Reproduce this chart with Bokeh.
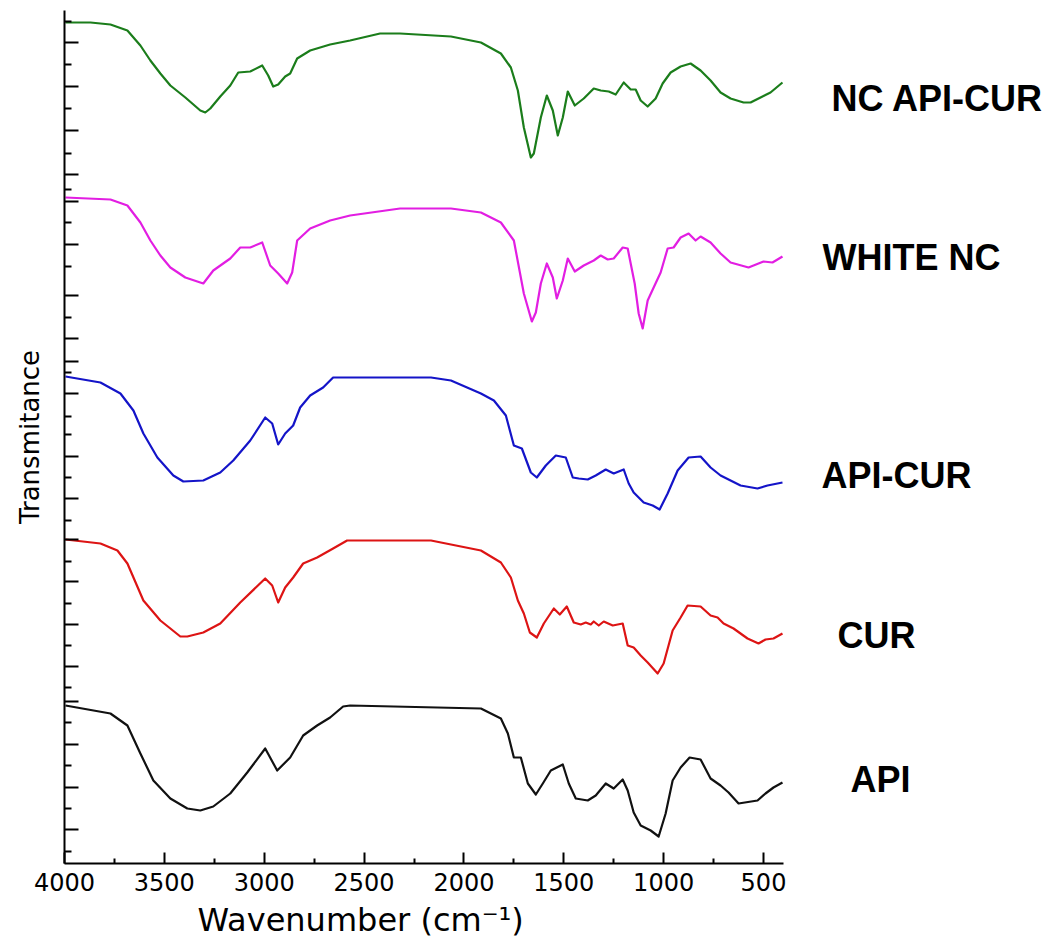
from bokeh.plotting import figure
from bokeh.models import Range1d, FixedTicker, Label, CustomJSTickFormatter, Title
from bokeh.embed import file_html
from bokeh.resources import INLINE

# ---------------- data (stacked transmittance, arbitrary units) ----------------
labels = ["NC API-CUR", "WHITE NC", "API-CUR", "CUR", "API"]
colors = ["#1b7d1b", "#e21ee2", "#1414c8", "#dd1414", "#111111"]

nc_api_cur_wn = [3995, 3870, 3770, 3685, 3620, 3570, 3520, 3470, 3395, 3320, 3295, 3270, 3220, 3170, 3130,
                 3070, 3010, 2980, 2955, 2930, 2895, 2870, 2835, 2770, 2670, 2570, 2420, 2320, 2065, 1915,
                 1815, 1765, 1730, 1700, 1665, 1650, 1615, 1585, 1555, 1530, 1505, 1480, 1445, 1400, 1350,
                 1315, 1275, 1240, 1200, 1165, 1140, 1115, 1080, 1040, 1005, 965, 915, 865, 815, 765,
                 715, 665, 600, 565, 515, 465, 405]
nc_api_cur_t = [841, 841, 839, 833, 818, 803, 790, 778, 766, 753, 751, 755, 767, 778, 791,
                792, 798, 788, 777, 779, 787, 790, 805, 813, 819, 823, 830, 830, 827, 821,
                810, 796, 773, 736, 706, 710, 746, 768, 753, 728, 746, 772, 758, 765, 775,
                773, 772, 769, 781, 774, 774, 763, 757, 765, 780, 791, 797, 800, 793, 783,
                771, 765, 761, 761, 766, 771, 781]

white_nc_wn = [3995, 3770, 3685, 3620, 3570, 3520, 3470, 3395, 3305, 3255, 3170, 3120, 3070, 3010, 2970,
               2930, 2885, 2860, 2835, 2770, 2670, 2570, 2320, 2065, 1915, 1815, 1750, 1700, 1660, 1640,
               1615, 1585, 1555, 1535, 1505, 1480, 1445, 1400, 1350, 1315, 1280, 1250, 1205, 1180, 1145,
               1125, 1105, 1080, 1050, 1015, 980, 950, 915, 875, 840, 815, 765, 715, 665, 575,
               500, 455, 405]
white_nc_t = [666, 664, 658, 641, 623, 608, 596, 586, 580, 593, 605, 616, 616, 621, 598,
              590, 580, 591, 623, 635, 643, 648, 655, 655, 651, 641, 623, 570, 542, 551,
              580, 600, 586, 565, 583, 605, 592, 598, 603, 608, 604, 605, 616, 615, 580,
              550, 535, 563, 576, 591, 615, 616, 626, 630, 623, 627, 621, 610, 601, 596,
              602, 601, 607]

api_cur_wn = [3995, 3820, 3720, 3655, 3605, 3535, 3455, 3405, 3305, 3220, 3155, 3070, 2995, 2960, 2930,
              2895, 2855, 2820, 2770, 2705, 2655, 2570, 2165, 2065, 1915, 1850, 1790, 1750, 1710, 1665,
              1635, 1590, 1540, 1490, 1455, 1425, 1380, 1340, 1290, 1250, 1200, 1175, 1150, 1100, 1055,
              1020, 980, 930, 875, 815, 765, 715, 665, 615, 530, 480, 405]
api_cur_t = [487, 481, 470, 453, 430, 406, 388, 382, 383, 391, 403, 423, 446, 440, 419,
             430, 438, 456, 468, 476, 486, 486, 486, 483, 470, 463, 448, 418, 415, 391,
             386, 398, 408, 406, 386, 385, 384, 388, 394, 390, 394, 380, 371, 361, 358,
             354, 370, 393, 406, 407, 396, 388, 383, 378, 375, 378, 381]

cur_wn = [3995, 3820, 3735, 3685, 3605, 3520, 3420, 3385, 3305, 3220, 3120, 2995, 2960, 2930, 2895,
          2855, 2805, 2735, 2655, 2585, 2165, 1915, 1815, 1765, 1730, 1700, 1670, 1635, 1600, 1550,
          1520, 1485, 1450, 1415, 1390, 1365, 1350, 1325, 1300, 1255, 1205, 1180, 1150, 1115, 1080,
          1030, 1000, 955, 915, 880, 815, 765, 730, 700, 650, 580, 525, 490, 450, 405]
cur_t = [324, 320, 313, 300, 263, 243, 227, 227, 231, 240, 261, 285, 278, 261, 276,
         286, 300, 306, 315, 323, 323, 313, 301, 286, 263, 250, 231, 226, 240, 255,
         249, 257, 241, 239, 241, 239, 242, 238, 242, 238, 240, 218, 216, 208, 201,
         190, 200, 233, 246, 258, 257, 248, 246, 240, 235, 225, 220, 224, 225, 230]

api_wn = [3995, 3770, 3685, 3620, 3555, 3470, 3385, 3320, 3255, 3170, 3085, 2995, 2935, 2870, 2805,
          2735, 2670, 2605, 2570, 1915, 1815, 1780, 1750, 1715, 1680, 1640, 1605, 1565, 1505, 1475,
          1440, 1380, 1340, 1290, 1250, 1205, 1180, 1150, 1115, 1065, 1025, 990, 955, 915, 870,
          815, 765, 715, 675, 625, 530, 490, 450, 405]
api_t = [158, 150, 138, 110, 83, 65, 55, 53, 57, 70, 91, 115, 93, 106, 128,
         138, 146, 157, 158, 155, 145, 130, 106, 106, 80, 69, 80, 93, 99, 80,
         65, 63, 68, 80, 75, 84, 73, 51, 38, 33, 27, 50, 83, 96, 106,
         104, 85, 78, 71, 60, 63, 70, 76, 81]

x_major = [500, 1000, 1500, 2000, 2500, 3000, 3500, 4000]
x_minor = [750, 1250, 1750, 2250, 2750, 3250, 3750]
x_axis_bounds = (400, 4000)
x_title = "Wavenumber (cm\u207b\u00b9)"
y_title = "Transmitance"

# ---------------- layout / style ----------------
y_major_ticks = [820.7, 776.7, 732.7, 688.7, 662, 619.3, 567.7, 525, 502, 469.7, 407.3, 364.7, 324.3,
                 281.7, 239.3, 197.3, 162.3, 119.3, 76.3, 33.7]
y_minor_ticks = [842.3, 799, 754.7, 710.3, 674.3, 641, 597.3, 546.3, 491, 447.3, 428.7, 385.7, 343,
                 302.3, 260.3, 218.3, 176.3, 141, 98, 55, 12.3]
label_x = [160, 205, 210, 130, 65]
label_y = [765, 606, 388, 228, 84]

# frame extends to the right edge so the sample names sit inside it; axis line limited by bounds
p = figure(width=1050, height=945, output_backend="svg", toolbar_location=None,
           x_range=Range1d(4000, -937), y_range=Range1d(0, 853),
           min_border_left=64, min_border_right=0, min_border_top=10, min_border_bottom=82)
p.outline_line_color = None
p.xgrid.visible = False
p.ygrid.visible = False
p.background_fill_color = "white"
p.border_fill_color = "white"

series = [(nc_api_cur_wn, nc_api_cur_t), (white_nc_wn, white_nc_t), (api_cur_wn, api_cur_t),
          (cur_wn, cur_t), (api_wn, api_t)]
for (wn, t), c in zip(series, colors):
    p.line(wn, t, line_color=c, line_width=2.2, line_join="round")

for name, lx, ly in zip(labels, label_x, label_y):
    p.add_layout(Label(x=lx, y=ly, text=name, text_font="Liberation Sans", text_font_style="bold",
                       text_font_size="36px", text_color="black", text_align="left",
                       text_baseline="middle"))

xa = p.xaxis[0]
xa.bounds = x_axis_bounds
xa.ticker = FixedTicker(ticks=x_major, minor_ticks=x_minor)
xa.major_label_text_font = "DejaVu Sans"
xa.major_label_text_font_size = "24px"
xa.major_label_text_color = "black"
xa.major_label_standoff = 9
xa.major_tick_in = 11
xa.major_tick_out = 0
xa.minor_tick_in = 5
xa.minor_tick_out = 0
xa.axis_line_width = 2
xa.major_tick_line_width = 2
xa.minor_tick_line_width = 2
xa.axis_line_color = "black"
xa.major_tick_line_color = "black"
xa.minor_tick_line_color = "black"

# x-axis title placed under the axis, starting where the reference's title starts
p.add_layout(Title(text=x_title, align="left", offset=133, standoff=11,
                   text_font="DejaVu Sans", text_font_size="32px", text_font_style="normal",
                   text_color="black"), "below")

ya = p.yaxis[0]
ya.ticker = FixedTicker(ticks=y_major_ticks, minor_ticks=y_minor_ticks)
ya.formatter = CustomJSTickFormatter(code="return ''")
ya.axis_label = y_title
ya.axis_label_text_font = "DejaVu Sans"
ya.axis_label_text_font_size = "26px"
ya.axis_label_text_font_style = "normal"
ya.axis_label_text_color = "black"
ya.axis_label_standoff = 20
ya.major_tick_in = 14
ya.major_tick_out = 0
ya.minor_tick_in = 7
ya.minor_tick_out = 0
ya.axis_line_width = 2
ya.major_tick_line_width = 2
ya.minor_tick_line_width = 2
ya.axis_line_color = "black"
ya.major_tick_line_color = "black"
ya.minor_tick_line_color = "black"

open("out.html", "w").write(file_html(p, INLINE))
